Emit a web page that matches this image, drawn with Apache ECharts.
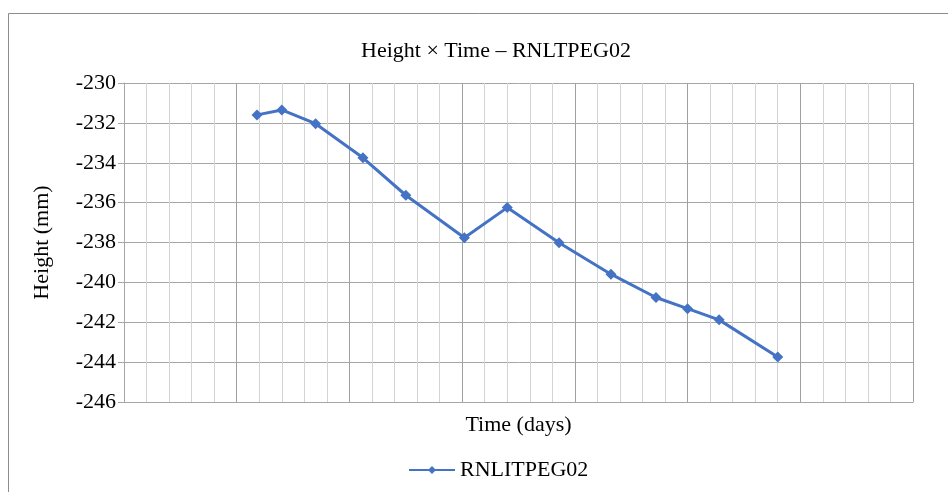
<!DOCTYPE html>
<html>
<head>
<meta charset="utf-8">
<script src="https://cdn.jsdelivr.net/npm/echarts@6/dist/echarts.min.js"></script>
<style>
html,body{margin:0;padding:0;background:#fff;}
#c{width:948px;height:492px;}
</style>
</head>
<body>
<div id="c"></div>
<script>
const seriesName = 'RNLITPEG02';
const timeDays = [59, 70, 85, 106, 125, 151, 170, 193, 216, 236, 250, 264, 290];
const heightMm = [-231.6, -231.35, -232.04, -233.75, -235.63, -237.76, -236.25, -238.01, -239.59, -240.76, -241.32, -241.88, -243.74];
const yTicks = [-246, -244, -242, -240, -238, -236, -234, -232, -230];

const points = timeDays.map((t, i) => [t, heightMm[i]]);
const font = '"Liberation Serif", "Times New Roman", serif';

const chart = echarts.init(document.getElementById('c'), null, {renderer: 'canvas'});
chart.setOption({
  animation: false,
  backgroundColor: '#fff',
  graphic: [{
    type: 'rect', x: 8.5, y: 13.5, z: -10,
    shape: {x: 0, y: 0, width: 1000, height: 1000},
    style: {fill: 'none', stroke: '#8c8c8c', lineWidth: 1}
  }],
  title: {
    text: 'Height × Time – RNLTPEG02',
    left: 356, top: 35,
    textStyle: {fontFamily: font, fontSize: 22, fontWeight: 'normal', color: '#000'}
  },
  legend: {
    data: [seriesName],
    left: 403, top: 454,
    itemWidth: 46, itemHeight: 10,
    textStyle: {fontFamily: font, fontSize: 22, color: '#000'}
  },
  grid: {left: 124, right: 35, top: 83, bottom: 90, containLabel: false},
  xAxis: {
    type: 'value', min: 0, max: 350, interval: 50,
    name: 'Time (days)', nameLocation: 'middle', nameGap: 12,
    nameTextStyle: {fontFamily: font, fontSize: 22, color: '#000'},
    axisLine: {show: true, lineStyle: {color: '#a6a6a6', width: 1}},
    axisTick: {show: false},
    axisLabel: {show: false},
    splitLine: {show: true, lineStyle: {color: '#a0a0a0', width: 1}},
    minorTick: {show: false, splitNumber: 5},
    minorSplitLine: {show: true, lineStyle: {color: '#d4d4d4', width: 1}}
  },
  yAxis: {
    type: 'value', min: yTicks[0], max: yTicks[yTicks.length - 1], interval: 2,
    name: 'Height (mm)', nameLocation: 'middle', nameGap: 71,
    nameTextStyle: {fontFamily: font, fontSize: 22, color: '#000'},
    axisLine: {show: true, lineStyle: {color: '#a6a6a6', width: 1}},
    axisTick: {show: true, length: 6, inside: false, lineStyle: {color: '#a6a6a6'}},
    axisLabel: {fontFamily: font, fontSize: 22, color: '#000', margin: 8},
    splitLine: {show: true, lineStyle: {color: '#a6a6a6', width: 1}}
  },
  series: [{
    name: seriesName,
    type: 'line',
    data: points,
    symbol: 'diamond',
    symbolSize: 11,
    color: '#4472C4',
    lineStyle: {color: '#4472C4', width: 3},
    itemStyle: {color: '#4472C4'}
  }]
});
</script>
</body>
</html>
